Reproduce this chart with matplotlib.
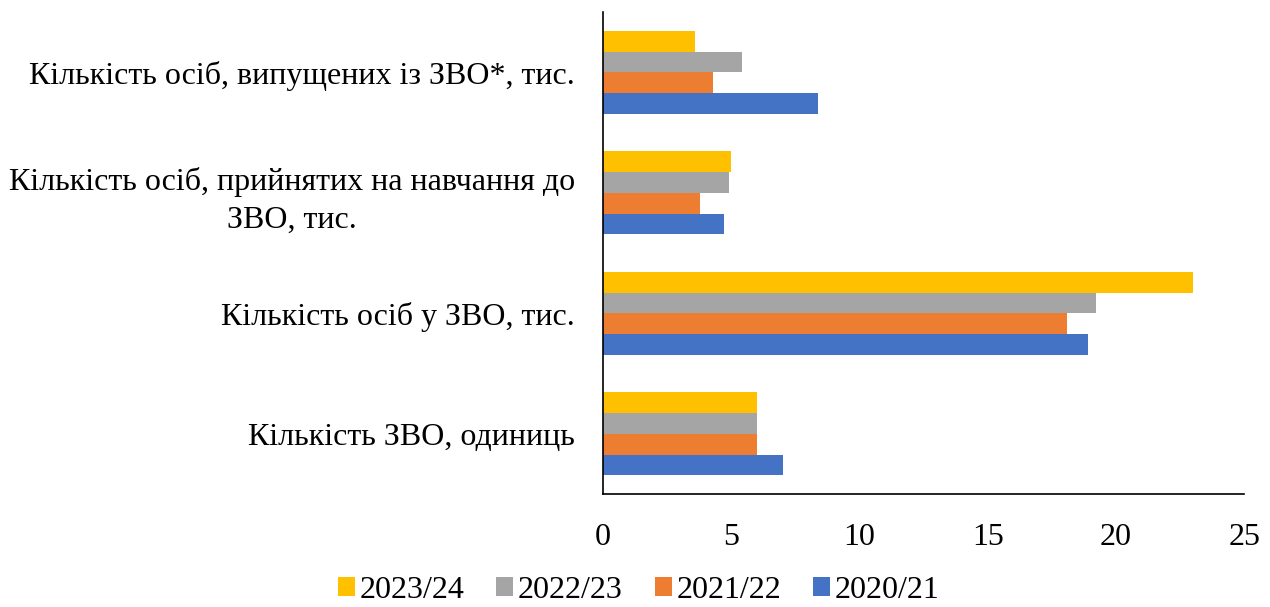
import matplotlib.pyplot as plt
import numpy as np

categories = [
    "Кількість ЗВО, одиниць",
    "Кількість осіб у ЗВО, тис.",
    "Кількість осіб, прийнятих на навчання до\nЗВО, тис.",
    "Кількість осіб, випущених із ЗВО*, тис.",
]
years = ["2020/21", "2021/22", "2022/23", "2023/24"]
v_2020 = [7.0, 18.9, 4.7, 8.4]
v_2021 = [6.0, 18.1, 3.8, 4.28]
v_2022 = [6.0, 19.2, 4.9, 5.4]
v_2023 = [6.0, 23.0, 5.0, 3.6]
colors = ["#4472C4", "#ED7D31", "#A5A5A5", "#FFC000"]

plt.rcParams['font.family'] = ['Liberation Serif', 'DejaVu Serif']

fig = plt.figure(figsize=(12.7, 6.07), dpi=100)
ax = fig.add_axes([0.4748, 0.186, 0.505, 0.794])

y = np.arange(len(categories))
h = 0.1725
series = [v_2020, v_2021, v_2022, v_2023]
bars = []
for i, (vals, c) in enumerate(zip(series, colors)):
    b = ax.barh(y + (i - 1.5) * h, vals, height=h, color=c, label=years[i])
    bars.append(b)

ax.set_xlim(0, 25)
ax.set_ylim(-0.5, 3.5)
ax.set_xticks([0, 5, 10, 15, 20, 25])
ax.set_yticks(y)
ax.set_yticklabels(categories, multialignment='center', linespacing=1.4)
ax.tick_params(axis='both', length=0, labelsize=23)
ax.tick_params(axis='x', pad=21)
ax.tick_params(axis='y', pad=20)
for s in ['top', 'right']:
    ax.spines[s].set_visible(False)
ax.spines['left'].set_linewidth(1.2)
ax.spines['bottom'].set_linewidth(1.2)

handles = bars[::-1]
fig.legend(handles, [years[3], years[2], years[1], years[0]], loc='lower center',
           bbox_to_anchor=(0.503, -0.044), ncol=4, frameon=False, fontsize=23,
           handlelength=0.53, handleheight=0.53, handletextpad=0.15, columnspacing=1.0)

fig.savefig("out.png", dpi=100)
